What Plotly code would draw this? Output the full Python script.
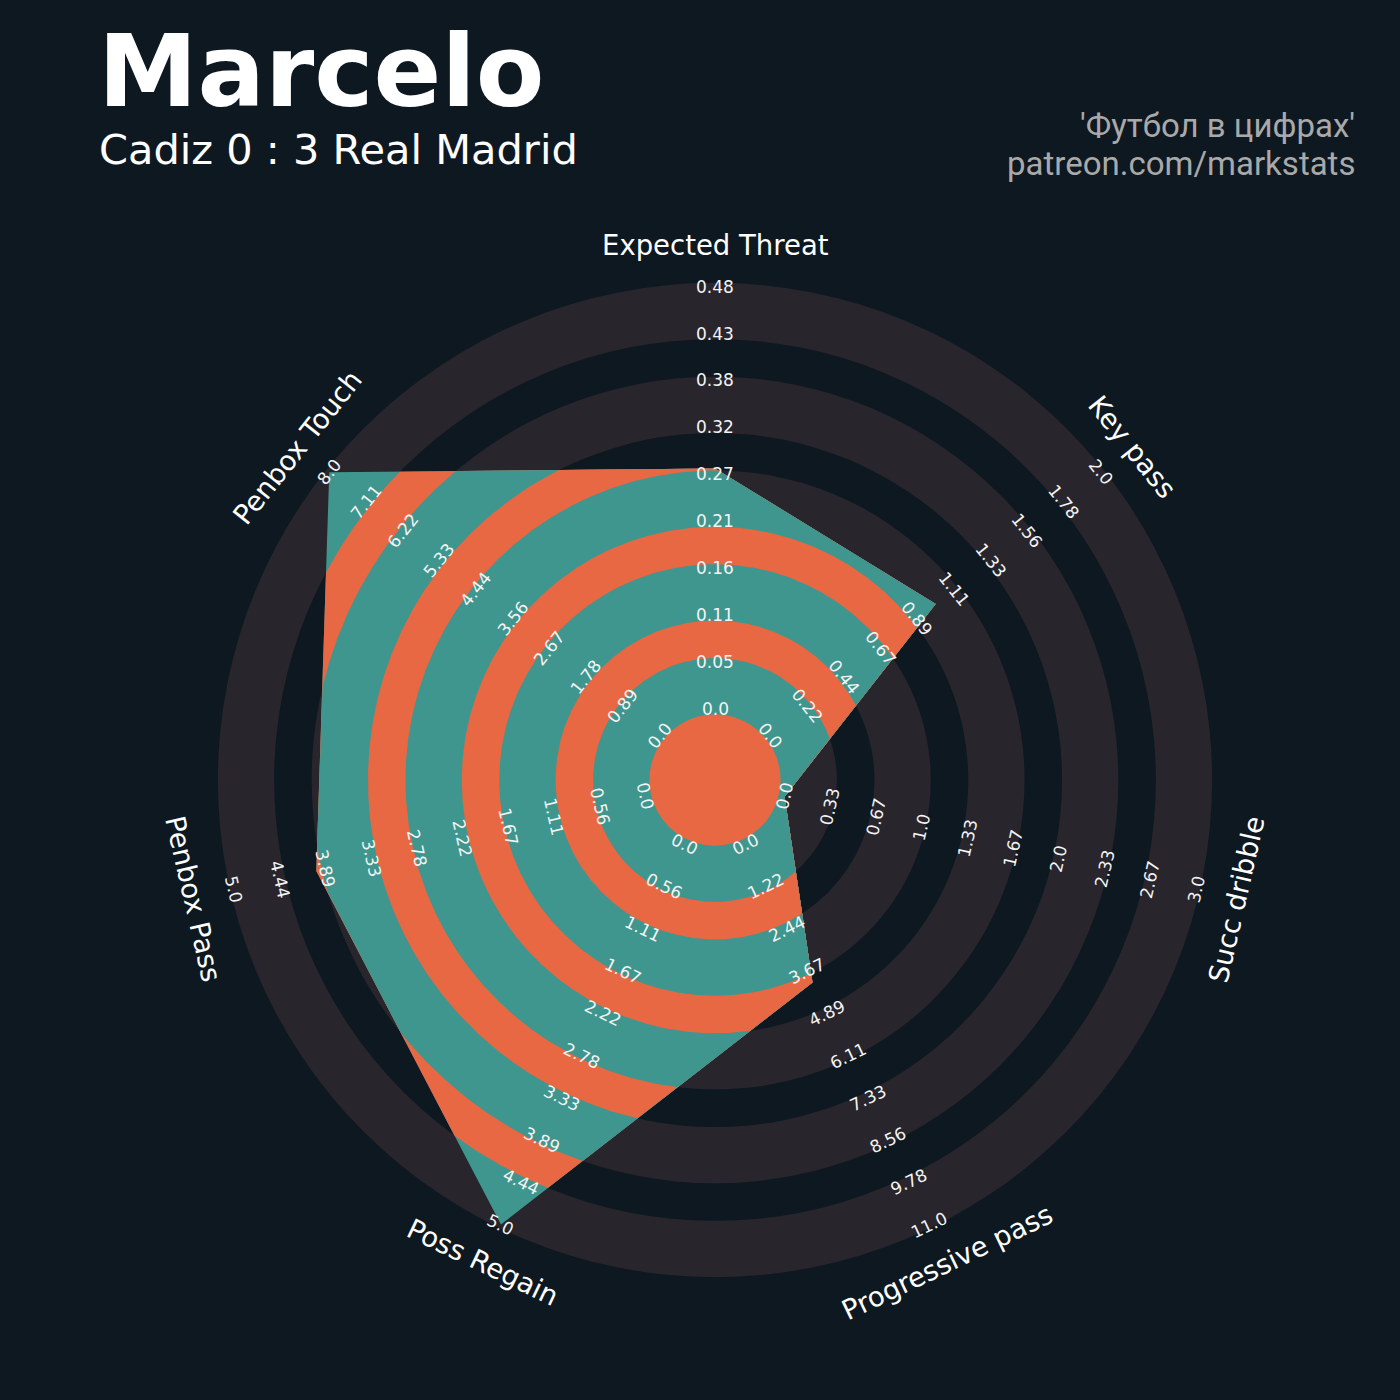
import numpy as np
import plotly.graph_objects as go

# ---- data -------------------------------------------------------------
PARAMS = ["Expected Threat", "Key pass", "Succ dribble", "Progressive pass",
          "Poss Regain", "Penbox Pass", "Penbox Touch"]
LOW = [0.0, 0.0, 0.0, 0.0, 0.0, 0.0, 0.0]
HIGH = [0.483, 2.0, 3.0, 11.0, 5.0, 5.0, 8.0]
VALUES = [0.275, 1.0, 0.0, 4.0, 5.0, 4.0, 8.0]
N_LABELS = 10

TITLE = "Marcelo"
SUBTITLE = "Cadiz 0 : 3 Real Madrid"
CREDIT_1 = "'Футбол в цифрах'"
CREDIT_2 = "patreon.com/markstats"

# ---- style ------------------------------------------------------------
BG = "#0e1821"
RING = "#28252c"
TEAL = "#3e968e"
ORANGE = "#e86843"
LABEL_COLOR = "#f4f4f4"
CREDIT_COLOR = "#a9a9a9"

W = H = 1400
CX_PX, CY_PX = 715, 780        # radar centre on the canvas
PX_PER_UNIT = 46.9

# radar geometry in data units
CENTER_R = 1.4                 # inner disc
RING_W, GAP_W = 1.2, 0.8       # ring band / gap widths
N_BANDS = 5
VALUE_R0 = 1.52                # radius where each axis starts
STEP = 1.0                     # spacing of range labels
VALUE_R1 = VALUE_R0 + (N_LABELS - 1) * STEP
LABEL_R = 11.4                 # parameter names

n = len(PARAMS)
theta = np.deg2rad(90 - 360 * np.arange(n) / n)


def scale(v, lo, hi):
    return VALUE_R0 + (v - lo) / (hi - lo) * (VALUE_R1 - VALUE_R0)


def text_rotation(deg):
    rot = deg - 90
    rot = ((rot + 90) % 180) - 90
    return -rot  # plotly measures clockwise


# ring band edges: wide ring bands alternating with narrower gaps
band_edges = []
for k in range(N_BANDS):
    start = CENTER_R + k * (RING_W + GAP_W)
    band_edges += [start, start + RING_W]
band_edges = sorted(band_edges, reverse=True)   # 10.6, 9.4, ... 1.4

fig = go.Figure()

# background rings (outside the radar polygon)
shapes = []
for i, r in enumerate(band_edges):
    shapes.append(dict(type="circle", xref="x", yref="y", x0=-r, y0=-r, x1=r, y1=r,
                       fillcolor=RING if i % 2 == 0 else BG,
                       line=dict(width=0), layer="below"))

# radar polygon outline, densely sampled along each edge
radii = np.array([scale(v, lo, hi) for v, lo, hi in zip(VALUES, LOW, HIGH)])
vx, vy = radii * np.cos(theta), radii * np.sin(theta)
t = np.linspace(0, 1, 240, endpoint=False)
px, py = [], []
for i in range(n):
    j = (i + 1) % n
    px.append(vx[i] + (vx[j] - vx[i]) * t)
    py.append(vy[i] + (vy[j] - vy[i]) * t)
px, py = np.concatenate(px), np.concatenate(py)
pr = np.hypot(px, py)

# polygon filled band by band: each fill is the polygon clipped to a disc
for i, r in enumerate(band_edges):
    k = np.minimum(1.0, r / pr)
    xs, ys = px * k, py * k
    fig.add_trace(go.Scatter(
        x=np.append(xs, xs[0]), y=np.append(ys, ys[0]),
        mode="lines", fill="toself",
        fillcolor=TEAL if i % 2 == 0 else ORANGE,
        line=dict(width=0), hoverinfo="skip", showlegend=False))

annotations = []
# range labels along each axis
for i in range(n):
    ang = np.rad2deg(theta[i])
    rot = text_rotation(ang)
    for j in range(N_LABELS):
        val = LOW[i] + j * (HIGH[i] - LOW[i]) / (N_LABELS - 1)
        r = VALUE_R0 + j * STEP
        annotations.append(dict(
            x=r * np.cos(theta[i]), y=r * np.sin(theta[i]), xref="x", yref="y",
            text=str(round(val, 2)), showarrow=False, textangle=rot,
            xanchor="center", yanchor="middle",
            font=dict(family="DejaVu Sans", size=17, color=LABEL_COLOR)))
    annotations.append(dict(
        x=LABEL_R * np.cos(theta[i]), y=LABEL_R * np.sin(theta[i]), xref="x", yref="y",
        text=PARAMS[i], showarrow=False, textangle=rot,
        xanchor="center", yanchor="middle",
        font=dict(family="DejaVu Sans", size=27.5, color="#ffffff")))

# titles and credits
annotations += [
    dict(x=96 / W, y=1 - 71 / H, xref="paper", yref="paper", text=f"<b>{TITLE}</b>",
         showarrow=False, xanchor="left", yanchor="middle",
         font=dict(family="DejaVu Sans", size=100, color="#ffffff")),
    dict(x=97 / W, y=1 - 150 / H, xref="paper", yref="paper", text=SUBTITLE,
         showarrow=False, xanchor="left", yanchor="middle",
         font=dict(family="DejaVu Sans", size=41.5, color="#ffffff")),
    dict(x=1357 / W, y=1 - 126 / H, xref="paper", yref="paper", text=CREDIT_1,
         showarrow=False, xanchor="right", yanchor="middle",
         font=dict(family="Roboto", size=33, color=CREDIT_COLOR)),
    dict(x=1357 / W, y=1 - 164 / H, xref="paper", yref="paper", text=CREDIT_2,
         showarrow=False, xanchor="right", yanchor="middle",
         font=dict(family="Roboto", size=33, color=CREDIT_COLOR)),
]

fig.update_layout(
    width=W, height=H, margin=dict(l=0, r=0, t=0, b=0, pad=0),
    paper_bgcolor=BG, plot_bgcolor=BG, showlegend=False,
    shapes=shapes, annotations=annotations,
    xaxis=dict(range=[-CX_PX / PX_PER_UNIT, (W - CX_PX) / PX_PER_UNIT],
               visible=False, fixedrange=True),
    yaxis=dict(range=[-(H - CY_PX) / PX_PER_UNIT, CY_PX / PX_PER_UNIT],
               visible=False, fixedrange=True),
)

fig.write_html("out.html")
